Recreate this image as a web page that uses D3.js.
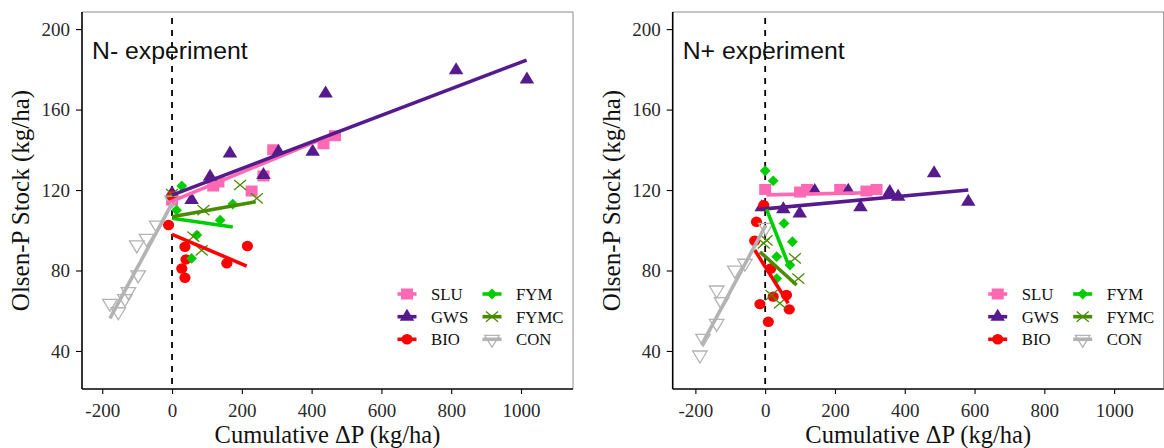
<!DOCTYPE html>
<html><head><meta charset="utf-8">
<script src="https://cdn.jsdelivr.net/npm/d3@7"></script>
<style>body{margin:0;background:#fff}</style>
</head><body>
<script>
// ---------- data ----------
const groups = ["SLU","GWS","BIO","FYM","FYMC","CON"];
const xTicks = [-200,0,200,400,600,800,1000];
const yTicks = [40,80,120,160,200];
const panelTitles = ["N- experiment","N+ experiment"];

// N- experiment points [cumulative ΔP, Olsen-P stock]
const nMinusSLU  = [[0,115],[118,122],[133,124],[228,119.5],[262,127],[290,140],[434,143],[467,147]];
const nMinusGWS  = [[0,118.4],[56,115],[109,126.6],[166,138.2],[262,127.5],[305,139],[403,139],[440,168],[814,179.6],[1017,175]];
const nMinusBIO  = [[0,117],[-10,102.6],[37,91.8],[40,85.5],[28,81],[37,76.4],[157,83.6],[216,92.2]];
const nMinusFYM  = [[28,122],[13,110],[56,86],[71,97.6],[138,105],[174,113]];
const nMinusFYMC = [[0,118],[90,110],[61,96.8],[85,90],[195,122.5],[243,115.9]];
const nMinusCON  = [[-178,63.7],[-154,59.5],[-135,66],[-125,69.5],[-97,77.8],[-101,92.7],[-73,96],[-44,102.6],[0,115]];
// N- fitted lines [x0,y0,x1,y1]
const nMinusFitSLU  = [-15,113.4,481,149];
const nMinusFitGWS  = [0,117.5,1016,184.6];
const nMinusFitBIO  = [0,98,214,82.2];
const nMinusFitFYM  = [0,106,174,101.6];
const nMinusFitFYMC = [0,106.7,240,114.2];
const nMinusFitCON  = [-178,56.2,0,113.4];

// N+ experiment points
const nPlusSLU  = [[0,120.3],[100,119],[120,120.3],[215,120.3],[290,119.5],[319,120.3]];
const nPlusGWS  = [[-10,111.4],[52,110.4],[99,108.4],[142,119.5],[238,119.6],[273,111.4],[357,119],[381,116.7],[484,128.3],[582,114.2]];
const nPlusBIO  = [[-4,112.5],[-25,104.2],[-30,94.8],[16,81],[-15,63.3],[9,54.5],[23,67],[61,67.8],[69,60.7]];
const nPlusFYM  = [[0,129.6],[23,124.6],[54,103.4],[78,94.3],[33,86.9],[71,82.7],[33,76]];
const nPlusFYMC = [[4,95],[-4,93.5],[85,86],[95,76],[42,63.7],[18,67.8]];
const nPlusCON  = [[2,101.4],[-58,83.6],[-87,80.2],[-139,70.3],[-125,64.5],[-139,53.7],[-178,46.3],[-187,38]];
const nPlusFitSLU  = [4,117.6,329,118.8];
const nPlusFitGWS  = [-15,110.4,582,120];
const nPlusFitBIO  = [-30,90.2,66,63.7];
const nPlusFitFYM  = [4,110.4,69,81.9];
const nPlusFitFYMC = [-15,89.3,90,72.8];
const nPlusFitCON  = [-182,43,2,102.6];

const panelPoints = [
  [nMinusSLU,nMinusGWS,nMinusBIO,nMinusFYM,nMinusFYMC,nMinusCON],
  [nPlusSLU,nPlusGWS,nPlusBIO,nPlusFYM,nPlusFYMC,nPlusCON]];
const panelFits = [
  [nMinusFitSLU,nMinusFitGWS,nMinusFitBIO,nMinusFitFYM,nMinusFitFYMC,nMinusFitCON],
  [nPlusFitSLU,nPlusFitGWS,nPlusFitBIO,nPlusFitFYM,nPlusFitFYMC,nPlusFitCON]];

// ---------- styles ----------
const colors = {SLU:"#FF69B4",GWS:"#551A8B",BIO:"#FF0000",FYM:"#00CD00",FYMC:"#4A8C00",CON:"#B3B3B3"};
const W = 1164, H = 448;
const panels = [{x0:82,x1:573,dom:[-258,1149]},{x0:672.7,x1:1163.7,dom:[-265,1142]}];
const plotTop = 12, plotBottom = 389;
const serif = "'Liberation Serif','Times New Roman',serif";
const sans = "'Liberation Sans',Arial,sans-serif";

const svg = d3.select("body").append("svg").attr("width",W).attr("height",H);

function drawShape(g, grp, cx, cy){
  const c = colors[grp];
  if(grp==="SLU"){
    g.append("rect").attr("x",cx-6).attr("y",cy-5.5).attr("width",12).attr("height",11).attr("fill",c);
  } else if(grp==="GWS"){
    const s=14.5, h=12;
    g.append("path").attr("d",`M${cx},${cy-h*2/3}L${cx+s/2},${cy+h/3}L${cx-s/2},${cy+h/3}Z`).attr("fill",c);
  } else if(grp==="BIO"){
    g.append("ellipse").attr("cx",cx).attr("cy",cy).attr("rx",5.6).attr("ry",5.2).attr("fill",c);
  } else if(grp==="FYM"){
    const r=5.4;
    g.append("path").attr("d",`M${cx},${cy-r}L${cx+r},${cy}L${cx},${cy+r}L${cx-r},${cy}Z`).attr("fill",c);
  } else if(grp==="FYMC"){
    const r=6;
    g.append("path").attr("d",`M${cx-r},${cy-r*0.85}L${cx+r},${cy+r*0.85}M${cx-r},${cy+r*0.85}L${cx+r},${cy-r*0.85}`)
      .attr("stroke",c).attr("stroke-width",1.3).attr("fill","none");
  } else if(grp==="CON"){
    const s=14.5, h=12;
    g.append("path").attr("d",`M${cx},${cy+h*2/3}L${cx+s/2},${cy-h/3}L${cx-s/2},${cy-h/3}Z`)
      .attr("stroke",c).attr("stroke-width",1.3).attr("fill","none");
  }
}

panels.forEach((p,pi)=>{
  const x = d3.scaleLinear().domain(p.dom).range([p.x0,p.x1]);
  const y = d3.scaleLinear().domain([21.1,208.5]).range([plotBottom,plotTop]);
  const g = svg.append("g");

  g.append("path").attr("d",`M${p.x0},${plotTop}H${p.x1}V${plotBottom}`).attr("fill","none")
    .attr("stroke","#8c8c8c").attr("stroke-width",1);

  g.append("line").attr("x1",x(0)).attr("x2",x(0)).attr("y1",plotTop+6).attr("y2",plotBottom)
    .attr("stroke","#000").attr("stroke-width",1.8).attr("stroke-dasharray","6,6");

  const clipId = "clip"+pi;
  svg.append("clipPath").attr("id",clipId).append("rect")
    .attr("x",p.x0).attr("y",plotTop).attr("width",p.x1-p.x0).attr("height",plotBottom-plotTop);
  const pg = g.append("g").attr("clip-path",`url(#${clipId})`);
  groups.forEach((grp,gi)=>{
    panelPoints[pi][gi].forEach(d=>drawShape(pg,grp,x(d[0]),y(d[1])));
  });
  groups.forEach((grp,gi)=>{
    const f = panelFits[pi][gi];
    pg.append("line").attr("x1",x(f[0])).attr("y1",y(f[1])).attr("x2",x(f[2])).attr("y2",y(f[3]))
      .attr("stroke",colors[grp]).attr("stroke-width",3.6).attr("stroke-linecap","butt");
  });

  const xAxis = d3.axisBottom(x).tickValues(xTicks).tickSize(5).tickPadding(10).tickFormat(d=>String(d));
  const yAxis = d3.axisLeft(y).tickValues(yTicks).tickSize(6).tickPadding(6);
  const xa = g.append("g").attr("transform",`translate(0,${plotBottom})`).call(xAxis);
  const ya = g.append("g").attr("transform",`translate(${p.x0},0)`).call(yAxis);
  [xa,ya].forEach(a=>{
    a.select(".domain").attr("stroke","#000").attr("stroke-width",1.6);
    a.selectAll(".tick line").attr("stroke","#000").attr("stroke-width",1.1);
    a.selectAll("text").attr("font-family",serif).attr("font-size",19).attr("fill","#2a2a2a");
  });
  xa.select(".domain").attr("d",`M${p.x0},0H${p.x1}`);
  ya.select(".domain").attr("d",`M0,${plotTop}V${plotBottom}`);

  g.append("text").attr("x",(p.x0+p.x1)/2).attr("y",443).attr("text-anchor","middle")
    .attr("font-family",serif).attr("font-size",24.5).attr("fill","#111").text("Cumulative ΔP (kg/ha)");
  g.append("text").attr("transform",`translate(${p.x0-53},${(plotTop+plotBottom)/2}) rotate(-90)`)
    .attr("text-anchor","middle").attr("font-family",serif).attr("font-size",25).attr("fill","#111")
    .text("Olsen-P Stock (kg/ha)");

  g.append("text").attr("x",p.x0+10).attr("y",59).attr("font-family",sans).attr("font-size",24.8)
    .attr("fill","#111").text(panelTitles[pi]);

  const lx = p.x1 - 166, rows=[294,316.7,339.3], colDx=85;
  groups.forEach((grp,gi)=>{
    const col = Math.floor(gi/3), row = gi%3;
    const kx = lx + col*colDx, ky = rows[row];
    const lg = g.append("g");
    lg.append("line").attr("x1",kx-9.5).attr("x2",kx+9.5).attr("y1",ky).attr("y2",ky)
      .attr("stroke",colors[grp]).attr("stroke-width",3.6);
    drawShape(lg,grp,kx,ky);
    lg.append("text").attr("x",kx+24).attr("y",ky+6).attr("font-family",serif).attr("font-size",16.8)
      .attr("fill","#111").text(grp);
  });
});
</script>
</body></html>
